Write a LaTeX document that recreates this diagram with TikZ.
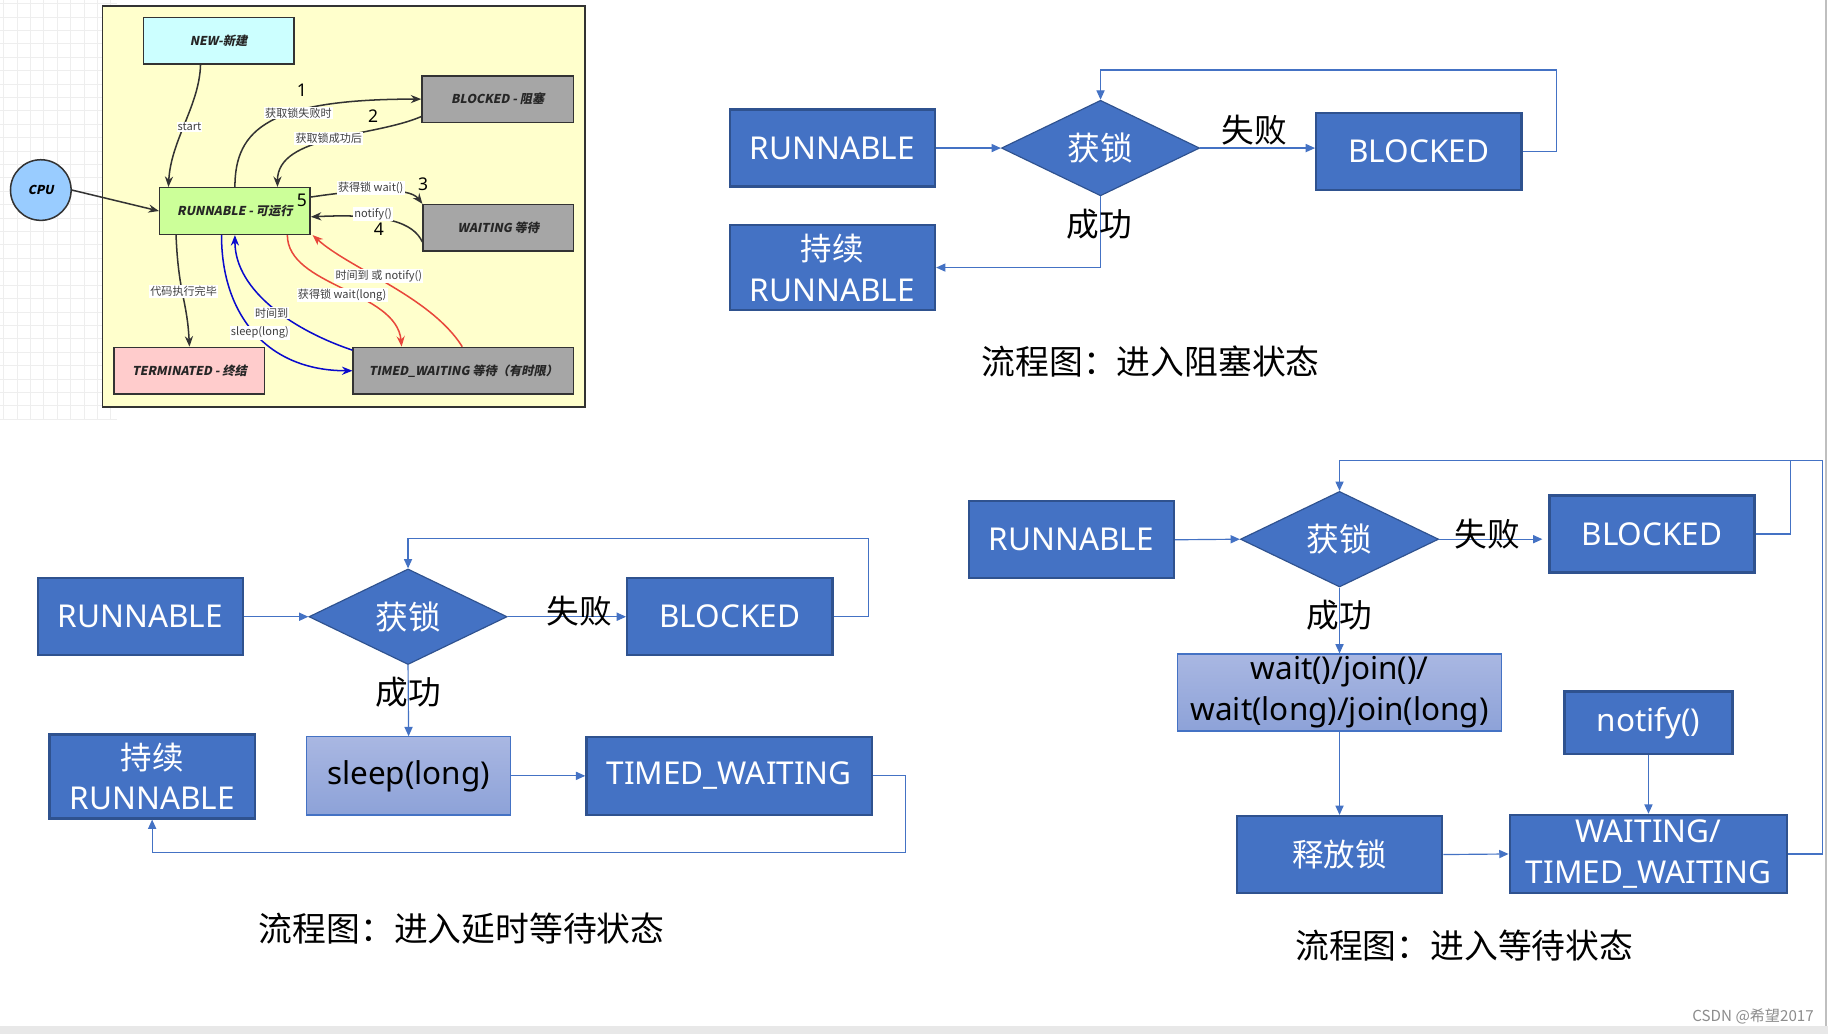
\documentclass[tikz,border=0pt]{standalone}
\usepackage{fontspec}
\setmainfont{Noto Sans}
\newfontfamily\cjk{Noto Sans CJK SC}
\newfontfamily\cjksl[FakeSlant=0.2]{Noto Sans CJK SC}
\usetikzlibrary{shapes.geometric,arrows.meta,calc}
\definecolor{fblue}{HTML}{4472C4}
\definecolor{fborder}{HTML}{2F528F}
\definecolor{lighttop}{HTML}{A9B7E2}
\definecolor{lightbot}{HTML}{8DA2D8}
\definecolor{panelc}{HTML}{FFFFCC}
\definecolor{newc}{HTML}{CCFFFF}
\definecolor{grayc}{HTML}{A6A6A6}
\definecolor{runc}{HTML}{CCFF99}
\definecolor{termc}{HTML}{FFCCCC}
\definecolor{cpuc}{HTML}{99CCFF}
\definecolor{redc}{HTML}{E8473B}
\definecolor{bluec}{HTML}{0A0ACC}
\definecolor{gridc}{HTML}{EEEEEE}
\definecolor{darkc}{HTML}{333333}
\begin{document}
\begin{tikzpicture}[x=1pt,y=-1pt,
  fbox/.style={draw=fborder, line width=2pt, fill=fblue, text=white, inner sep=0pt,
    font=\fontsize{27}{35}\selectfont, align=center, minimum width=176pt, minimum height=66pt},
  fdia/.style={diamond, draw=fborder, line width=1pt, fill=fblue, text=white, inner sep=0pt,
    font=\cjk\fontsize{28}{34}\selectfont, minimum width=170pt, minimum height=76pt},
  flight/.style={draw=fblue, line width=1pt, top color=lighttop, bottom color=lightbot, text=black,
    inner sep=0pt, font=\fontsize{27}{35}\selectfont, align=center},
  fline/.style={draw=fblue, line width=1pt, -{Triangle[length=8pt,width=7pt]}},
  fplain/.style={draw=fblue, line width=1pt},
  flab/.style={font=\cjk\fontsize{28}{34}\selectfont, text=black, inner sep=0pt},
  ftitle/.style={font=\cjk\fontsize{29}{34}\selectfont, text=black, inner sep=0pt},
  sbox/.style={draw=darkc, line width=1.3pt, minimum width=129pt, minimum height=40pt, inner sep=0pt,
    font=\cjksl\bfseries\fontsize{10.5}{12}\selectfont, text=black!85},
  sarr/.style={line width=1.3pt, draw=darkc, -{Stealth[length=9pt,width=7pt]}},
  slab/.style={fill=white, inner sep=1pt, font=\cjk\fontsize{9.5}{11}\selectfont, text=black!75},
  snum/.style={font=\fontsize{15}{16}\selectfont, text=black, inner sep=0pt}
]
\useasboundingbox (0,0) rectangle (1568,887);
\fill[white] (0,0) rectangle (1568,887);

% ---------- top-left state diagram ----------
\foreach \i in {0,...,8} \draw[gridc, line width=0.6pt] (\i*11.5+3,0) -- (\i*11.5+3,360);
\foreach \j in {0,...,31} \draw[gridc, line width=0.6pt] (0,\j*11.5+3) -- (100,\j*11.5+3);
\node[draw=darkc, line width=1.3pt, fill=panelc, minimum width=414pt, minimum height=344pt, inner sep=0pt] (panel) at (295,177) {};

\node[sbox, fill=newc] (new) at (187.5,35) {NEW-新建};
\node[sbox, fill=grayc, minimum width=130pt] (blk) at (427,85) {BLOCKED - 阻塞};
\node[circle, draw=darkc, line width=1.3pt, fill=cpuc, minimum size=52pt, inner sep=0pt,
  font=\cjksl\bfseries\fontsize{10.5}{12}\selectfont] (cpu) at (35,163) {CPU};
\node[sbox, fill=runc] (run) at (201.5,181) {RUNNABLE - 可运行};
\node[sbox, fill=grayc] (wai) at (427.5,195.5) {WAITING 等待};
\node[sbox, fill=termc] (term) at (162.5,318) {TERMINATED - 终结};
\node[sbox, fill=grayc, minimum width=189pt] (tw) at (397.5,318) {TIMED\_WAITING 等待（有时限）};

\draw[sarr] ([xshift=-15.5pt]new.south) .. controls +(-1,35) and +(2,-40) .. ([xshift=-57pt]run.north);
\draw[sarr] (cpu.east) -- (run.west);
\draw[sarr] (run.north) .. controls +(0,-50) and +(-130,0) .. (blk.west);
\draw[sarr] ([yshift=-15pt]blk.west) .. controls +(-42,18) and +(0,-45) .. ([xshift=36.5pt]run.north);
\draw[sarr] ([yshift=12pt]run.east) .. controls +(40,-6) and +(-12,-15.5) .. (wai.north west);
\draw[sarr] ([yshift=8.5pt]wai.south west) .. controls +(-8,-17) and +(64,-3) .. ([yshift=-5pt]run.east);
\draw[sarr] ([xshift=-50.5pt]run.south) .. controls +(2,50) and +(-2,-40) .. (term.north);
\draw[line width=1.3pt, draw=bluec, -{Stealth[length=9pt,width=7pt]}]
  ([xshift=-11.5pt]run.south) .. controls +(0,69) and +(-73,0) .. (tw.west);
\draw[line width=1.3pt, draw=bluec, -{Stealth[length=9pt,width=7pt]}]
  ([yshift=-3pt]tw.north west) .. controls +(-48,-16) and +(0,49) .. (run.south);
\draw[line width=1.3pt, draw=redc, -{Stealth[length=9pt,width=7pt]}]
  ([xshift=45pt]run.south) .. controls +(0,44) and +(-4.5,-48) .. ([xshift=-53pt]tw.north);
\draw[line width=1.3pt, draw=redc, -{Stealth[length=9pt,width=7pt]}]
  ([xshift=-1pt]tw.north) .. controls +(-27,-43) and +(32,29) .. ([xshift=1.5pt]run.south east);

\node[slab] (lstart) at (162.5,109) {start};
\node[slab] (lfail) at (256,97) {获取锁失败时};
\node[slab] (lsucc) at (282,119) {获取锁成功后};
\node[slab] (lwait) at (318,161.5) {获得锁 wait()};
\node[slab] (lnotify) at (320,183.5) {notify()};
\node[slab] (ldone) at (157.5,250) {代码执行完毕};
\node[slab] (ltime) at (233,268.5) {时间到};
\node[slab] (lsleep) at (223,285.5) {sleep(long)};
\node[slab] (ltn) at (325,237) {时间到 或 notify()};
\node[slab] (lwl) at (293.5,253) {获得锁 wait(long)};
\node[snum] (n1) at (259,77) {1};
\node[snum] (n2) at (320,100) {2};
\node[snum] (n3) at (363,158) {3};
\node[snum] (n4) at (325,197) {4};
\node[snum] (n5) at (259,172) {5};

% ---------- flowchart 1: blocked ----------
\node[fbox] (r1) at (714,127) {RUNNABLE};
\node[fdia] (d1) at (944,127) {获锁};
\node[fbox] (b1) at (1217,130) {BLOCKED};
\node[fbox, minimum height=73pt] (c1) at (714,229.5) {{\cjk 持续}\\RUNNABLE};
\coordinate (top1) at (944,60);
\draw[fline] (r1.east) -- (d1.west);
\draw[fline] (d1.east) -- (d1.east -| b1.west);
\draw[fline] (b1.east) -- ++(29,0) |- (top1) -- (d1.north);
\draw[fline] (d1.south) |- (c1.east);
\node[flab] (f1fail) at (1076,112) {失败};
\node[flab] (f1succ) at (943,192) {成功};
\node[ftitle] (f1title) at (987,310) {流程图：进入阻塞状态};

% ---------- flowchart 2: timed waiting ----------
\node[fbox] (r2) at (120.5,529) {RUNNABLE};
\node[fdia] (d2) at (350,529) {获锁};
\node[fbox] (b2) at (626,529) {BLOCKED};
\node[flight, minimum width=175pt, minimum height=67pt] (s2) at (350.5,665.5) {sleep(long)};
\node[fbox, minimum width=245pt, minimum height=67pt] (t2) at (625.5,665.5) {TIMED\_WAITING};
\node[fbox, minimum height=72pt] (c2) at (130.5,666) {{\cjk 持续}\\RUNNABLE};
\coordinate (top2) at (350,462);
\coordinate (bot2) at (777,731);
\draw[fline] (r2.east) -- (d2.west);
\draw[fline] (d2.east) -- (b2.west);
\draw[fline] (b2.east) -- ++(30,0) |- (top2) -- (d2.north);
\draw[fline] (d2.south) -- (s2.north);
\draw[fline] (s2.east) -- (t2.west);
\draw[fline] (t2.east) -| (bot2) -| (c2.south);
\node[flab] (f2fail) at (497,524) {失败};
\node[flab] (f2succ) at (350,594) {成功};
\node[ftitle] (f2title) at (396,797) {流程图：进入延时等待状态};

% ---------- flowchart 3: waiting ----------
\node[fbox] (r3) at (919,463) {RUNNABLE};
\node[fdia, minimum height=77pt] (d3) at (1149,462.5) {获锁};
\node[fbox] (b3) at (1417,458) {BLOCKED};
\node[flight, minimum width=278pt, minimum height=66pt] (w3) at (1149,594) {wait()/join()/\\wait(long)/join(long)};
\node[fbox] (f3) at (1149,733) {\cjk 释放锁};
\node[fbox, minimum width=144pt, minimum height=54pt] (n3b) at (1414,620) {notify()};
\node[fbox, minimum width=238pt, minimum height=67pt] (t3) at (1414,732.5) {WAITING/\\TIMED\_WAITING};
\coordinate (top3) at (1149,395);
\draw[fline] (r3.east) -- (d3.west);
\draw[fline] (d3.east) -- ([xshift=-5pt]d3.east -| b3.west);
\draw[fplain] (t3.east) -- ++(29,0) |- (top3);
\draw[fline] (b3.east) -- ++(30,0) |- (top3) -- (d3.north);
\draw[fline] (d3.south) -- (w3.north);
\draw[fline] (w3.south) -- (f3.north);
\draw[fline] (n3b.south) -- (t3.north);
\draw[fline] (f3.east) -- (t3.west);
\node[flab] (f3fail) at (1276,458) {失败};
\node[flab] (f3succ) at (1149,528) {成功};
\node[ftitle] (f3title) at (1256,811) {流程图：进入等待状态};

% ---------- frame details ----------
\draw[draw=black!25, line width=1.5pt] (1566.5,0) -- (1566.5,880);
\fill[black!9] (0,880) rectangle (1568,887);
\node[font=\cjk\fontsize{13}{15}\selectfont, text=black!45, anchor=east, inner sep=0pt] (wm) at (1556,872) {CSDN @希望2017};
\end{tikzpicture}
\end{document}
